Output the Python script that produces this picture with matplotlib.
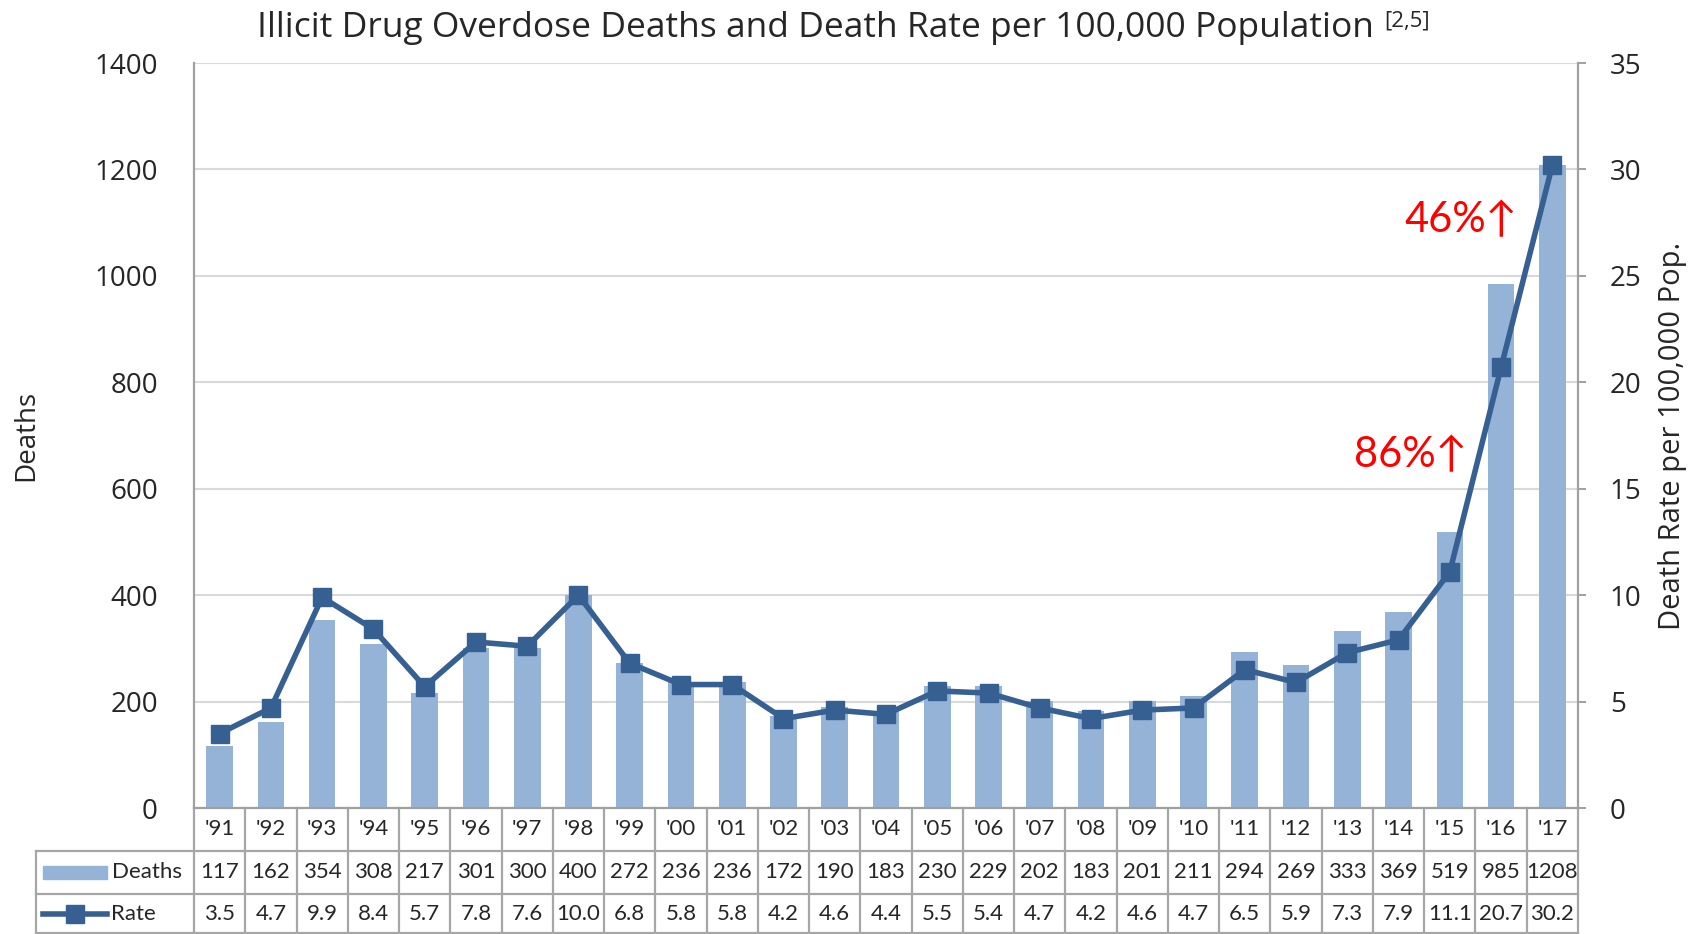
import matplotlib
matplotlib.use("Agg")
import matplotlib.pyplot as plt
from matplotlib.transforms import blended_transform_factory
from matplotlib.lines import Line2D
from matplotlib.patches import Rectangle

years = ["'91", "'92", "'93", "'94", "'95", "'96", "'97", "'98", "'99", "'00",
         "'01", "'02", "'03", "'04", "'05", "'06", "'07", "'08", "'09", "'10",
         "'11", "'12", "'13", "'14", "'15", "'16", "'17"]
deaths = [117, 162, 354, 308, 217, 301, 300, 400, 272, 236, 236, 172, 190, 183,
          230, 229, 202, 183, 201, 211, 294, 269, 333, 369, 519, 985, 1208]
rate = [3.5, 4.7, 9.9, 8.4, 5.7, 7.8, 7.6, 10.0, 6.8, 5.8, 5.8, 4.2, 4.6, 4.4,
        5.5, 5.4, 4.7, 4.2, 4.6, 4.7, 6.5, 5.9, 7.3, 7.9, 11.1, 20.7, 30.2]
rate_txt = ["%.1f" % r for r in rate]

bar_c = "#95b3d7"
line_c = "#376092"
grid_c = "#d9d9d9"
axis_c = "#a0a0a0"
table_c = "#a6a6a6"
txt_c = "#262626"

plt.rcParams["font.family"] = ["Open Sans", "DejaVu Sans"]

fig = plt.figure(figsize=(17.05, 9.34), dpi=100)
ax = fig.add_axes([0.1138, 0.1349, 0.8117, 0.7976])
x = list(range(len(years)))

ax.bar(x, deaths, width=0.52, color=bar_c, zorder=2)
ax.set_xlim(-0.5, len(years) - 0.5)
ax.set_ylim(0, 1400)
ax.set_yticks(range(0, 1401, 200))
ax.yaxis.grid(True, color=grid_c, linewidth=1.5, zorder=0)
ax.set_axisbelow(True)
ax.set_xticks([])
ax.tick_params(axis="y", length=0, pad=26, labelsize=20, labelcolor=txt_c)
ax.set_ylabel("Deaths", fontsize=20, color=txt_c)
ax.yaxis.set_label_coords(-0.111, 0.5)
for s in ["top", "right"]:
    ax.spines[s].set_visible(False)
for s in ["left", "bottom"]:
    ax.spines[s].set_color(axis_c)
    ax.spines[s].set_linewidth(1.6)

ax2 = ax.twinx()
ax2.plot(x, rate, color=line_c, linewidth=4, marker="s", markersize=12.5, zorder=3)
ax2.set_ylim(0, 35)
ax2.set_yticks(range(0, 36, 5))
ax2.tick_params(axis="y", length=6, width=1.4, color=axis_c, pad=17,
                labelsize=20, labelcolor=txt_c)
ax2.set_ylabel("Death Rate per 100,000 Pop.", fontsize=21, color=txt_c, labelpad=12)
for s in ["top", "left", "bottom"]:
    ax2.spines[s].set_visible(False)
ax2.spines["right"].set_color(axis_c)
ax2.spines["right"].set_linewidth(1.6)

# title with superscript reference
t = fig.text(0.151, 0.97, "Illicit Drug Overdose Deaths and Death Rate per 100,000 Population",
             fontsize=25.5, color=txt_c, ha="left", va="center")
fig.canvas.draw()
ax.annotate("[2,5]", xy=(1, 0.72), xycoords=t, xytext=(7, 0), textcoords="offset points",
            fontsize=16, color=txt_c, ha="left", va="center", annotation_clip=False)

# red annotations
ax.text(24.22, 1105, "46%↑", color="red", fontsize=30, ha="center", va="center",
        family=["Lato", "DejaVu Sans"])
ax.text(23.24, 663, "86%↑", color="red", fontsize=30, ha="center", va="center",
        family=["Lato", "DejaVu Sans"])

# data table below the plot
tr = blended_transform_factory(ax.transData, ax.transAxes)
rows_y = [0, -0.0577, -0.1154, -0.168]
left_x = -3.58
lw = 1.6
for i in range(len(years) + 1):
    ax.add_line(Line2D([i - 0.5, i - 0.5], [0, rows_y[3]], transform=tr,
                       color=table_c, lw=lw, clip_on=False))
ax.add_line(Line2D([left_x, left_x], [rows_y[1], rows_y[3]], transform=tr,
                   color=table_c, lw=lw, clip_on=False))
for yy in rows_y[1:]:
    ax.add_line(Line2D([left_x, len(years) - 0.5], [yy, yy], transform=tr,
                       color=table_c, lw=lw, clip_on=False))

tfont = dict(family=["Lato", "DejaVu Sans"], fontsize=16, color=txt_c,
             ha="center", va="center", transform=tr, clip_on=False)
cy = [(rows_y[k] + rows_y[k + 1]) / 2 for k in range(3)]
for i in x:
    ax.text(i, cy[0], years[i], **tfont)
    ax.text(i, cy[1], str(deaths[i]), **tfont)
    ax.text(i, cy[2], rate_txt[i], **tfont)

# row labels with legend keys
ax.add_patch(Rectangle((-3.44, cy[1] - 0.009), 1.24, 0.018, transform=tr,
                       color=bar_c, clip_on=False))
ax.add_line(Line2D([-3.44, -2.2], [cy[2], cy[2]], transform=tr, color=line_c,
                   lw=4, clip_on=False))
ax.add_line(Line2D([-2.82], [cy[2]], transform=tr, color=line_c, marker="s",
                   markersize=12.5, clip_on=False))
lab = dict(tfont, ha="left")
ax.text(-2.1, cy[1], "Deaths", **lab)
ax.text(-2.12, cy[2], "Rate", **lab)

fig.savefig("out.png", dpi=100)
